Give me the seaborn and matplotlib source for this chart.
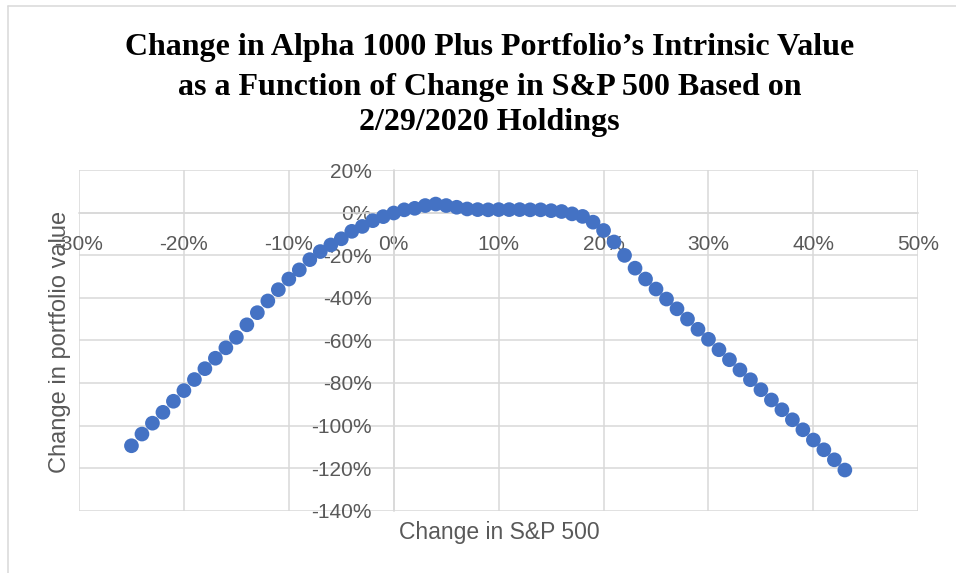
import matplotlib
matplotlib.use("Agg")
import matplotlib.pyplot as plt
import matplotlib.ticker as mticker
from matplotlib.lines import Line2D
import seaborn as sns
import pandas as pd

# ---- data (percent) ----
sp500_change = list(range(-25, 44))
portfolio_change = [
    -109.5, -104.0, -98.9, -93.8, -88.6, -83.6, -78.4, -73.3, -68.4, -63.5,
    -58.6, -52.7, -47.0, -41.5, -36.2, -31.2, -26.9, -22.1, -18.3, -15.2,
    -12.3, -8.8, -6.5, -3.8, -1.9, -0.2,
    1.3, 2.0, 3.3, 4.0, 3.3, 2.5, 1.7, 1.4, 1.3, 1.4, 1.4, 1.4, 1.3, 1.3,
    0.9, 0.5, -0.6, -1.8, -4.5, -8.4, -13.8, -20.1, -26.1,
    -31.2, -35.9, -40.6, -45.2, -50.0, -54.8, -59.5, -64.4, -69.1, -73.9,
    -78.5, -83.2, -88.0, -92.6, -97.3, -102.0, -106.8, -111.4, -116.1, -120.9,
]
title_lines = [
    "Change in Alpha 1000 Plus Portfolio\u2019s Intrinsic Value",
    "as a Function of Change in S&P 500 Based on",
    "2/29/2020 Holdings",
]
x_label = "Change in S&P 500"
y_label = "Change in portfolio value"

df = pd.DataFrame({"sp": sp500_change, "pv": portfolio_change})

sns.set_style("white")
plt.rcParams["font.family"] = ["Liberation Sans", "DejaVu Sans"]

W, H = 956, 573
fig = plt.figure(figsize=(W / 100, H / 100), dpi=100)
ax = fig.add_axes([79 / W, 1 - 510.7 / H, (918.3 - 79) / W, (510.7 - 170) / H])

grid_c = "#d9d9d9"
text_c = "#595959"

sns.scatterplot(data=df, x="sp", y="pv", ax=ax, color="#4472C4", s=112,
                edgecolor="none", linewidth=0, zorder=3, clip_on=False)

ax.set_xlim(-30, 50)
ax.set_ylim(-140, 20)
ax.xaxis.set_major_locator(mticker.MultipleLocator(10))
ax.yaxis.set_major_locator(mticker.MultipleLocator(20))
fmt = mticker.FuncFormatter(lambda v, p: f"{v:.0f}%")
ax.xaxis.set_major_formatter(fmt)
ax.yaxis.set_major_formatter(fmt)

ax.grid(True, color=grid_c, linewidth=1.1)
for gl in ax.get_xgridlines() + ax.get_ygridlines():
    gl.set_clip_on(False)

ax.spines["left"].set_position(("data", 0))
ax.spines["bottom"].set_position(("data", 0))
for s in ["left", "bottom"]:
    ax.spines[s].set_color(grid_c)
    ax.spines[s].set_linewidth(1.1)
for s in ["top", "right"]:
    ax.spines[s].set_visible(False)

ax.tick_params(axis="both", length=0, labelsize=15, labelcolor=text_c)
ax.tick_params(axis="x", pad=16)
ax.tick_params(axis="y", pad=16)
ax.set_xlabel("")
ax.set_ylabel("")

fig.text(499 / W, 1 - 533 / H, x_label, ha="center", va="center",
         fontsize=16.5, color=text_c)
fig.text(60 / W, 1 - 342 / H, y_label, ha="center", va="center",
         rotation=90, fontsize=17, color=text_c)

title_y = [48, 87, 123]
for line, yy in zip(title_lines, title_y):
    fig.text(489.5 / W, 1 - yy / H, line, ha="center", va="center",
             fontsize=23, fontweight="bold", family="Liberation Serif",
             color="black")

# chart area border (left and top edges visible)
fig.add_artist(Line2D([8 / W, 8 / W], [0, 1 - 6 / H], transform=fig.transFigure,
                      color=grid_c, linewidth=1.1))
fig.add_artist(Line2D([8 / W, 1], [1 - 6 / H, 1 - 6 / H], transform=fig.transFigure,
                      color=grid_c, linewidth=1.1))

fig.savefig("out.png", dpi=100, facecolor="white")
